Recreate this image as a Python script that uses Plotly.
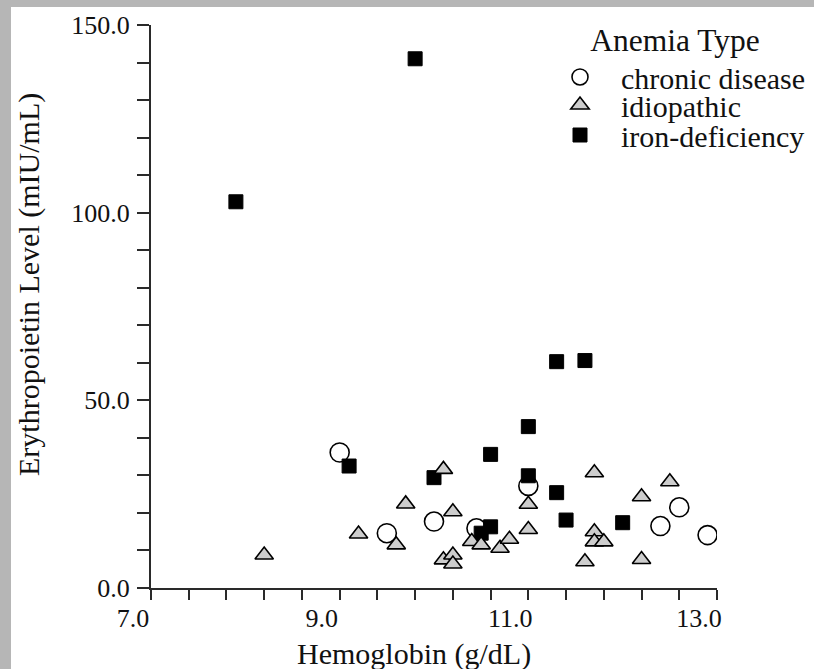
import plotly.graph_objects as go

# ---- data ----
chronic_hb = [9.0, 9.5, 10.0, 10.45, 11.0, 12.4, 12.6, 12.9]
chronic_epo = [36.1, 14.6, 17.7, 15.9, 27.2, 16.5, 21.5, 14.1]

idio_hb = [8.2, 9.2, 9.6, 9.7, 10.1, 10.2, 10.1, 10.2, 10.2, 10.4, 10.5, 10.7,
           10.8, 11.0, 11.0, 11.7, 11.7, 11.7, 11.8, 11.6, 12.2, 12.5, 12.2]
idio_epo = [8.8, 14.4, 11.5, 22.4, 31.6, 20.3, 7.5, 8.8, 6.4, 12.4, 11.5, 10.6,
            13.0, 22.3, 15.6, 30.7, 15.0, 12.3, 12.3, 7.0, 24.3, 28.3, 7.6]

iron_hb = [7.9, 9.8, 9.1, 10.0, 10.6, 11.0, 11.0, 11.3, 11.6, 11.3, 11.4, 12.0, 10.6, 10.5]
iron_epo = [102.9, 141.0, 32.5, 29.4, 35.6, 43.0, 29.9, 60.3, 60.6, 25.4, 18.1, 17.4, 16.3, 14.6]

x_title = "Hemoglobin (g/dL)"
y_title = "Erythropoietin Level (mIU/mL)"
legend_title = "Anemia Type"

FONT = "Liberation Serif, Times New Roman, Times, serif"
AX = "#2a2a2a"
GRAY = "#b6b6b6"

W, H = 814, 669
L, R, T, B = 151, 97, 25, 81
PW, PH = W - L - R, H - T - B

def px_x(p):
    return (p - L) / PW

def px_y(p):
    return (H - B - p) / PH

fig = go.Figure()

fig.add_trace(go.Scatter(
    x=chronic_hb, y=chronic_epo, mode="markers", name="chronic disease",
    marker=dict(symbol="circle-open", size=19, color="black", line=dict(width=1.6, color="black")),
    legend="legend",
))
fig.add_trace(go.Scatter(
    x=iron_hb, y=iron_epo, mode="markers", name="iron-deficiency",
    marker=dict(symbol="square", size=14, color="black", line=dict(width=1, color="black")),
    legend="legend3",
))
fig.add_trace(go.Scatter(
    x=idio_hb, y=idio_epo, mode="markers", name="idiopathic",
    marker=dict(symbol="triangle-up", size=16, color="#cdcdcd", line=dict(width=1.6, color="black")),
    legend="legend2",
))

LEG_X = 539
leg_common = dict(
    xref="container", yref="container", xanchor="left",
    bgcolor="rgba(0,0,0,0)", borderwidth=0,
    font=dict(family=FONT, size=30, color="#111"),
    itemwidth=72,
)

fig.update_layout(
    width=W, height=H,
    margin=dict(l=L, r=R, t=T, b=B, autoexpand=False),
    paper_bgcolor=GRAY, plot_bgcolor="white",
    font=dict(family=FONT, color="#111"),
    showlegend=True,
    legend=dict(**leg_common, x=LEG_X / W, y=1 - 10 / H, yanchor="top",
                title=dict(text=legend_title, side="top center",
                           font=dict(family=FONT, size=31.5, color="#111"))),
    legend2=dict(**leg_common, x=LEG_X / W, y=1 - 105 / H, yanchor="middle"),
    legend3=dict(**leg_common, x=LEG_X / W, y=1 - 135 / H, yanchor="middle"),
    xaxis=dict(
        range=[7, 13], tickmode="linear", tick0=7, dtick=2, tickformat=".1f",
        ticks="outside", ticklen=10, tickwidth=2, tickcolor=AX,
        showline=True, linecolor=AX, linewidth=2,
        showgrid=False, zeroline=False,
        tickfont=dict(family=FONT, size=26, color="#111"),
        ticklabelshift=-18, ticklabelstandoff=-4,
        minor=dict(tick0=7, dtick=0.4, ticks="outside", ticklen=10, tickwidth=2,
                   tickcolor=AX, showgrid=False),
    ),
    yaxis=dict(
        range=[0, 150], tickmode="linear", tick0=0, dtick=50, tickformat=".1f",
        ticks="outside", ticklen=12, tickwidth=2, tickcolor=AX,
        showline=True, linecolor=AX, linewidth=2,
        showgrid=False, zeroline=False,
        tickfont=dict(family=FONT, size=26, color="#111"),
        ticklabelstandoff=2,
        minor=dict(tick0=0, dtick=10, ticks="outside", ticklen=12, tickwidth=2,
                   tickcolor=AX, showgrid=False),
    ),
    annotations=[
        dict(text=x_title, xref="paper", yref="paper", x=px_x(414), y=px_y(654),
             xanchor="center", yanchor="middle", showarrow=False,
             font=dict(family=FONT, size=30, color="#111")),
        dict(text=y_title, xref="paper", yref="paper", x=px_x(29), y=px_y(285),
             xanchor="center", yanchor="middle", textangle=-90, showarrow=False,
             font=dict(family=FONT, size=30, color="#111")),
    ],
    shapes=[
        dict(type="rect", xref="paper", yref="paper", layer="below",
             x0=px_x(11), x1=px_x(W + 5), y0=px_y(H + 5), y1=px_y(7),
             fillcolor="white", line=dict(width=0)),
    ],
)

fig.write_html(
    "out.html",
    config={"displayModeBar": False},
    post_script="document.body.style.margin='0';document.body.style.overflow='hidden';",
)
